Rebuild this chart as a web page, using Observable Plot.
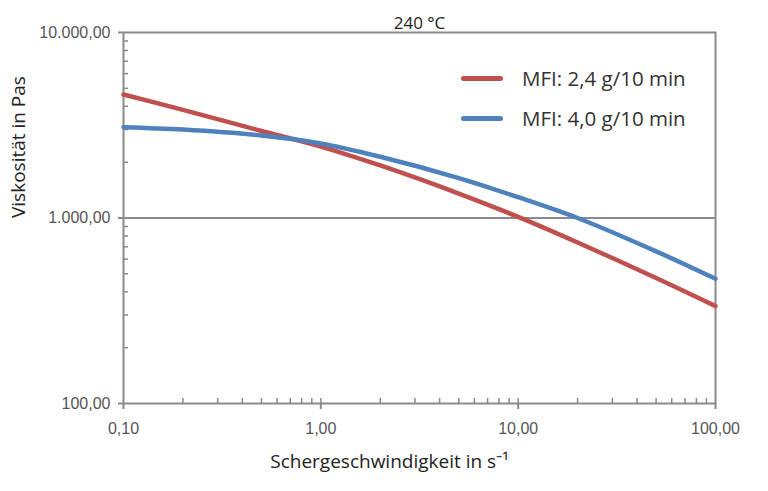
<!DOCTYPE html>
<html><head><meta charset="utf-8">
<script src="https://cdn.jsdelivr.net/npm/d3@7"></script>
<script src="https://cdn.jsdelivr.net/npm/@observablehq/plot@0.6"></script>
<style>
body{margin:0;background:#fff}
#wrap{position:relative;width:768px;height:491px}
.leg{position:absolute;left:461px;font-family:'Open Sans',sans-serif;font-size:20.5px;color:#333;display:flex;align-items:center;white-space:nowrap}
.sw{display:inline-block;width:42px;height:5px;border-radius:2.5px;margin-right:19px}
</style>
</head><body><div id="wrap"></div>
<script>
const shearRate = [0.1, 0.2, 0.5, 1, 2, 5, 10, 20, 50, 100];
const viscMFI24 = [4634, 3830, 2944, 2427, 1919, 1355, 1014, 738, 475, 335];
const viscMFI40 = [3087, 2996, 2786, 2524, 2138, 1641, 1294, 1000, 661, 470];
const seriesNames = ["MFI: 2,4 g/10 min", "MFI: 4,0 g/10 min"];
const seriesColors = ["#C0504D", "#4F81BD"];
const xTicks = [0.1, 1, 10, 100];
const xInnerTicks = [0.2,0.3,0.4,0.5,0.6,0.7,0.8,0.9,1,2,3,4,5,6,7,8,9,10,20,30,40,50,60,70,80,90];
const yTicks = [100, 1000, 10000];
const yInnerTicks = [200,300,400,500,600,700,800,900,2000,3000,4000,5000,6000,7000,8000,9000];
const titleText = ["240 °C"];
const xLabel = ["Schergeschwindigkeit in s⁻¹"];
const yLabel = ["Viskosität in Pas"];

const de = d3.formatLocale({decimal: ",", thousands: ".", grouping: [3], currency: ["", "€"]});
const fmt = de.format(",.2f");

const data = shearRate.flatMap((x, i) => [
  {x, y: viscMFI24[i], s: seriesNames[0]},
  {x, y: viscMFI40[i], s: seriesNames[1]}
]);

const axisCol = "#8a8a8a";
const titleFont = "'Open Sans', sans-serif";
const chart = Plot.plot({
  width: 768, height: 491,
  marginLeft: 123, marginRight: 53, marginTop: 32, marginBottom: 88,
  style: {fontFamily: "'Liberation Sans', sans-serif", fontSize: "16px", color: "#555", background: "#fff"},
  x: {type: "log", domain: [0.1, 100]},
  y: {type: "log", domain: [100, 10000]},
  color: {domain: seriesNames, range: seriesColors},
  marks: [
    Plot.ruleY([1000], {stroke: axisCol, strokeWidth: 2}),
    Plot.frame({stroke: axisCol, strokeWidth: 2}),
    Plot.axisY({ticks: yTicks, tickFormat: fmt, tickSize: 5, tickPadding: 8, label: null, stroke: axisCol, strokeWidth: 2}),
    Plot.axisY({ticks: yInnerTicks, tickFormat: () => "", tickSize: -5, label: null, stroke: axisCol, strokeWidth: 1.5}),
    Plot.axisX({ticks: xTicks, tickFormat: fmt, tickSize: 6, tickPadding: 13, label: null, stroke: axisCol, strokeWidth: 2}),
    Plot.axisX({ticks: xInnerTicks, tickFormat: () => "", tickSize: -5, label: null, stroke: axisCol, strokeWidth: 1.5}),
    Plot.line(data, {x: "x", y: "y", z: "s", stroke: "s", strokeWidth: 4.5, curve: "catmull-rom"}),
    Plot.text(titleText, {text: d => d, frameAnchor: "top", dy: -16, fontFamily: titleFont, fontSize: 17, fill: "#222"}),
    Plot.text(xLabel, {text: d => d, frameAnchor: "bottom", dx: -30, dy: 64, fontFamily: titleFont, fontSize: 19, fill: "#222"}),
    Plot.text(yLabel, {text: d => d, frameAnchor: "left", dx: -105, rotate: -90, fontFamily: titleFont, fontSize: 19, fill: "#222"})
  ]
});
const wrap = document.getElementById("wrap");
wrap.appendChild(chart);
const legTops = [78, 118];
seriesNames.forEach((name, i) => {
  const d = document.createElement("div");
  d.className = "leg";
  d.style.top = (legTops[i] - 14) + "px";
  d.style.height = "28px";
  const sw = document.createElement("span");
  sw.className = "sw";
  sw.style.background = seriesColors[i];
  d.appendChild(sw);
  d.appendChild(document.createTextNode(name));
  wrap.appendChild(d);
});
</script>
</body></html>
